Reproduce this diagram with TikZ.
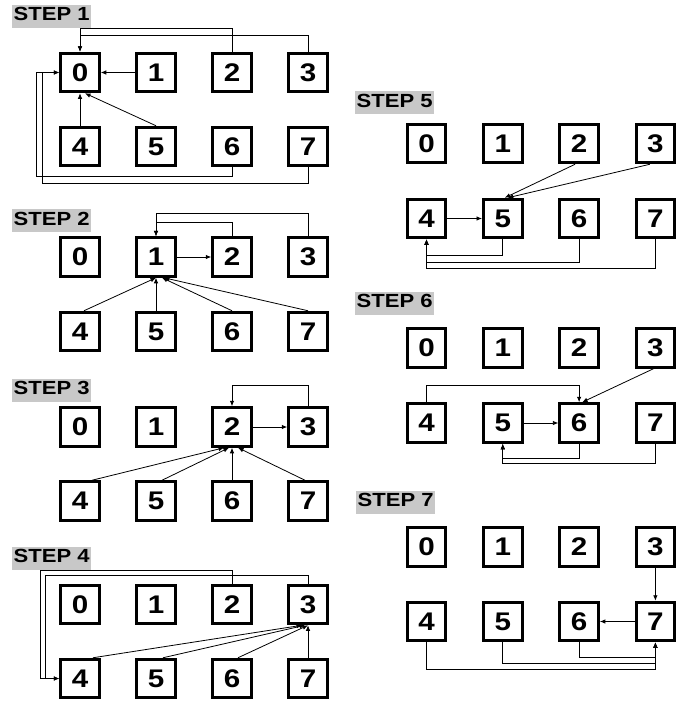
\documentclass[tikz,border=0pt]{standalone}
\usepackage{fontspec}
\setmainfont{Liberation Sans}[FakeStretch=1.16]
\usetikzlibrary{arrows.meta}
\definecolor{labgray}{RGB}{200,200,200}
\tikzset{
  numbox/.style={draw, line width=3pt, minimum size=38.5pt, inner sep=0pt,
    font=\bfseries\fontsize{25.5}{30}\selectfont},
  conn/.style={line width=0.8pt, -{Latex[length=5.5pt,width=4.5pt]}},
  steplabel/.style={fill=labgray, anchor=base west, inner xsep=1.5pt, inner ysep=2.5pt,
    text height=13.5pt, text depth=4.9pt, font=\bfseries\fontsize{19}{22}\selectfont}
}
\newcommand\placestep[5]{%
  \foreach \i in {0,...,3} {\node[numbox] (#1n\i) at ({#2+\i*#3},#4) {\i};}
  \foreach \i [evaluate=\i as \j using int(\i+4)] in {0,...,3} {\node[numbox] (#1n\j) at ({#2+\i*#3},#5) {\j};}
}
\begin{document}
\begin{tikzpicture}[x=1pt,y=-1pt]
\useasboundingbox (0,0) rectangle (688,702);

% labels
\node[steplabel] (lab1) at (12,20.65) {STEP 1};
\node[steplabel] (lab2) at (12,225) {STEP 2};
\node[steplabel] (lab3) at (12,394.5) {STEP 3};
\node[steplabel] (lab4) at (12,562.5) {STEP 4};
\node[steplabel] (lab5) at (355,107) {STEP 5};
\node[steplabel] (lab6) at (355,307.5) {STEP 6};
\node[steplabel] (lab7) at (356,506.5) {STEP 7};

% boxes
\placestep{s1}{80}{76}{72.5}{146.5}
\placestep{s2}{80}{76}{257}{331.5}
\placestep{s3}{80}{76}{427}{501}
\placestep{s4}{80}{76}{604.5}{678.5}
\placestep{s5}{426.5}{76.3}{143.5}{218.5}
\placestep{s6}{426.5}{76.3}{348}{423}
\placestep{s7}{426.5}{76.3}{547}{621.5}

% STEP 1
\draw[conn] (s1n1.west) -- (s1n0.east);
\draw[conn] (s1n4.north) -- (s1n0.south);
\draw[conn] (s1n5.north) -- ([xshift=5pt]s1n0.south);
\draw[conn] (s1n2.north) |- ([yshift=23pt]s1n0.north) -- (s1n0.north);
\draw[conn] (s1n3.north) |- ([yshift=16pt]s1n0.north) -- (s1n0.north);
\draw[conn] (s1n6.south) -- ++(0,9) -| ([xshift=-23.25pt]s1n0.west) -- (s1n0.west);
\draw[conn] (s1n7.south) -- ++(0,16) -| ([xshift=-17pt]s1n0.west) -- (s1n0.west);

% STEP 2
\draw[conn] (s2n1.east) -- (s2n2.west);
\draw[conn] (s2n2.north) |- ([yshift=14pt]s2n1.north) -- (s2n1.north);
\draw[conn] (s2n3.north) |- ([yshift=23pt]s2n1.north) -- (s2n1.north);
\draw[conn] ([xshift=4pt]s2n4.north) -- (s2n1.south);
\draw[conn] (s2n5.north) -- (s2n1.south);
\draw[conn] (s2n6.north) -- ([xshift=6pt]s2n1.south);
\draw[conn] (s2n7.north) -- ([xshift=8pt]s2n1.south);

% STEP 3
\draw[conn] (s3n2.east) -- (s3n3.west);
\draw[conn] (s3n3.north) |- ([yshift=21pt]s3n2.north) -- (s3n2.north);
\draw[conn] ([xshift=12pt]s3n4.north) -- ([xshift=-8pt]s3n2.south);
\draw[conn] ([xshift=6pt]s3n5.north) -- ([xshift=-3pt]s3n2.south);
\draw[conn] (s3n6.north) -- (s3n2.south);
\draw[conn] ([xshift=-3pt]s3n7.north) -- ([xshift=6pt]s3n2.south);

% STEP 4
\draw[conn] (s4n2.north) -- ++(0,-13) -| ([xshift=-19pt]s4n4.west) -- (s4n4.west);
\draw[conn] (s4n3.north) -- ++(0,-8) -| ([xshift=-14pt]s4n4.west) -- (s4n4.west);
\draw[conn] ([xshift=13pt]s4n4.north) -- ([xshift=-6pt]s4n3.south);
\draw[conn] ([xshift=7pt]s4n5.north) -- ([xshift=-3pt]s4n3.south);
\draw[conn] ([xshift=6pt]s4n6.north) -- (s4n3.south);
\draw[conn] (s4n7.north) -- (s4n3.south);

% STEP 5
\draw[conn] (s5n4.east) -- (s5n5.west);
\draw[conn] ([xshift=-4pt]s5n2.south) -- ([xshift=2pt]s5n5.north);
\draw[conn] ([xshift=-5.5pt]s5n3.south) -- ([xshift=5pt]s5n5.north);
\draw[conn] (s5n5.south) -- ++(0,16) -| (s5n4.south);
\draw[conn] (s5n6.south) -- ++(0,23) -| (s5n4.south);
\draw[conn] (s5n7.south) -- ++(0,29) -| (s5n4.south);

% STEP 6
\draw[conn] (s6n5.east) -- (s6n6.west);
\draw[conn] (s6n4.north) -- ++(0,-17) -| (s6n6.north);
\draw[conn] ([xshift=-2pt]s6n3.south) -- ([xshift=3pt]s6n6.north);
\draw[conn] (s6n6.south) -- ++(0,15) -| (s6n5.south);
\draw[conn] (s6n7.south) -- ++(0,19.5) -| (s6n5.south);

% STEP 7
\draw[conn] (s7n3.south) -- (s7n7.north);
\draw[conn] (s7n7.west) -- (s7n6.east);
\draw[conn] (s7n6.south) -- ++(0,15) -| (s7n7.south);
\draw[conn] (s7n5.south) -- ++(0,21) -| (s7n7.south);
\draw[conn] (s7n4.south) -- ++(0,27) -| (s7n7.south);
\end{tikzpicture}
\end{document}
